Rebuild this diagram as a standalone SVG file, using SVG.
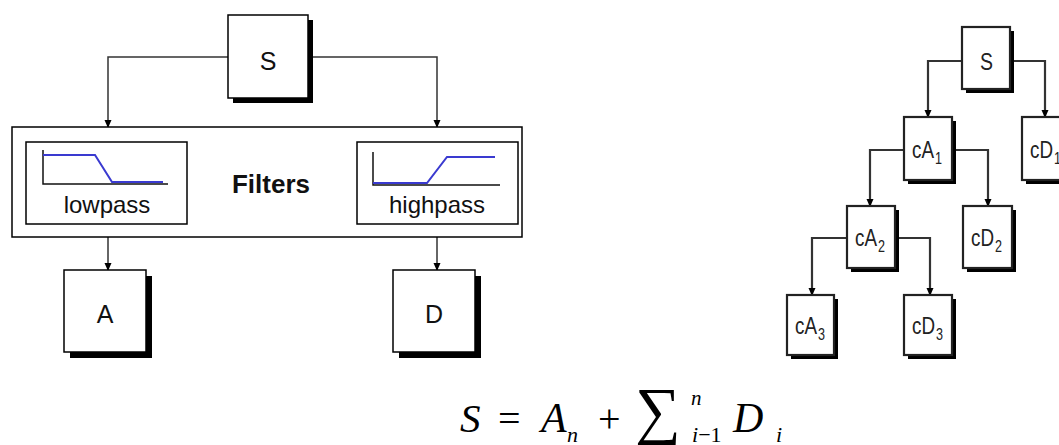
<svg xmlns="http://www.w3.org/2000/svg" width="1059" height="445" viewBox="0 0 1059 445">
<defs>
<marker id="arr" markerWidth="8" markerHeight="10" refX="7" refY="3.5" orient="auto" markerUnits="userSpaceOnUse" viewBox="0 0 8 7">
<path d="M0,0 L8,3.5 L0,7 Z" fill="#000"/>
</marker>
</defs>
<style>
.box{fill:#fff;stroke:#000;stroke-width:1.5}
.box2{fill:#fff;stroke:#222;stroke-width:2.2}
.sh{fill:#000}
.ln{fill:none;stroke:#333;stroke-width:1.5}
.ln2{fill:none;stroke:#333;stroke-width:2.2}
.t{font-family:"Liberation Sans",Arial,sans-serif;fill:#111;text-anchor:middle}
.tn{font-family:"Liberation Sans",Arial,sans-serif;fill:#222;font-size:24px}
.sub{font-family:"Liberation Sans",Arial,sans-serif;fill:#222;font-size:17px}
.m{font-family:"Liberation Serif","Times New Roman",serif;fill:#000}
.blue{fill:none;stroke:#3a3ad0;stroke-width:2}
.ax{fill:none;stroke:#111;stroke-width:1.5}
</style>
<g id="connectors">
<path class="ln" d="M228,57 H108 V127" marker-end="url(#arr)"/>
<path class="ln" d="M308,57 H437 V127" marker-end="url(#arr)"/>
<path class="ln" d="M108,237 V270" marker-end="url(#arr)"/>
<path class="ln" d="M437,237 V270" marker-end="url(#arr)"/>
<path class="ln2" d="M962,61 H928 V117" marker-end="url(#arr)"/>
<path class="ln2" d="M1010,61 H1045 V117" marker-end="url(#arr)"/>
<path class="ln2" d="M904,150 H870 V206" marker-end="url(#arr)"/>
<path class="ln2" d="M952,150 H988 V206" marker-end="url(#arr)"/>
<path class="ln2" d="M847,238 H812 V295" marker-end="url(#arr)"/>
<path class="ln2" d="M895,238 H930 V295" marker-end="url(#arr)"/>
</g>
<g id="S">
<rect class="sh" x="233" y="20" width="80" height="83"/>
<rect class="box" x="228" y="15" width="80" height="83"/>
<text class="t" x="268" y="70" font-size="25">S</text>
</g>
<g id="filters">
<rect class="box" x="12" y="127" width="510" height="110"/>
<text class="t" x="271" y="193" font-size="26" font-weight="bold">Filters</text>
</g>
<g id="lowpass">
<rect class="box" x="26" y="142" width="161" height="82"/>
<path class="ax" d="M43,150 V184 H168"/>
<path class="blue" d="M43,155 H95 L112,182 H163"/>
<text class="t" x="107" y="213" font-size="24">lowpass</text>
</g>
<g id="highpass">
<rect class="box" x="357" y="142" width="161" height="82"/>
<path class="ax" d="M373,152 V185 H500"/>
<path class="blue" d="M373,183 H427 L447,157 H495"/>
<text class="t" x="437" y="213" font-size="24">highpass</text>
</g>
<g id="A">
<rect class="sh" x="70" y="276" width="82" height="82"/>
<rect class="box" x="64" y="270" width="82" height="82"/>
<text class="t" x="105" y="323" font-size="25">A</text>
</g>
<g id="D">
<rect class="sh" x="399" y="276" width="82" height="82"/>
<rect class="box" x="393" y="270" width="82" height="82"/>
<text class="t" x="434" y="323" font-size="25">D</text>
</g>
<g id="tS">
<rect class="sh" x="966" y="31" width="48" height="62"/>
<rect class="box2" x="962" y="27" width="48" height="62"/>
<text class="tn" x="980" y="70" textLength="13" lengthAdjust="spacingAndGlyphs">S</text>
</g>
<g id="cA1">
<rect class="sh" x="908" y="121" width="48" height="63"/>
<rect class="box2" x="904" y="117" width="48" height="63"/>
<text class="tn" x="912" y="158" textLength="22" lengthAdjust="spacingAndGlyphs">cA</text>
<text class="sub" x="935" y="164" textLength="7" lengthAdjust="spacingAndGlyphs">1</text>
</g>
<g id="cD1">
<rect class="sh" x="1026" y="121" width="48" height="63"/>
<rect class="box2" x="1022" y="117" width="48" height="63"/>
<text class="tn" x="1030" y="158" textLength="23" lengthAdjust="spacingAndGlyphs">cD</text>
<text class="sub" x="1054" y="164" textLength="7" lengthAdjust="spacingAndGlyphs">1</text>
</g>
<g id="cA2">
<rect class="sh" x="851" y="210" width="48" height="62"/>
<rect class="box2" x="847" y="206" width="48" height="62"/>
<text class="tn" x="855" y="246" textLength="22" lengthAdjust="spacingAndGlyphs">cA</text>
<text class="sub" x="878" y="252" textLength="7" lengthAdjust="spacingAndGlyphs">2</text>
</g>
<g id="cD2">
<rect class="sh" x="967" y="210" width="49" height="62"/>
<rect class="box2" x="963" y="206" width="49" height="62"/>
<text class="tn" x="971" y="246" textLength="23" lengthAdjust="spacingAndGlyphs">cD</text>
<text class="sub" x="995" y="252" textLength="7" lengthAdjust="spacingAndGlyphs">2</text>
</g>
<g id="cA3">
<rect class="sh" x="791" y="299" width="47" height="60"/>
<rect class="box2" x="787" y="295" width="47" height="60"/>
<text class="tn" x="795" y="334" textLength="22" lengthAdjust="spacingAndGlyphs">cA</text>
<text class="sub" x="818" y="340" textLength="7" lengthAdjust="spacingAndGlyphs">3</text>
</g>
<g id="cD3">
<rect class="sh" x="908" y="299" width="48" height="60"/>
<rect class="box2" x="904" y="295" width="48" height="60"/>
<text class="tn" x="912" y="334" textLength="23" lengthAdjust="spacingAndGlyphs">cD</text>
<text class="sub" x="936" y="340" textLength="7" lengthAdjust="spacingAndGlyphs">3</text>
</g>
<g id="formula">
<text class="m" x="460" y="432" font-size="41" font-style="italic">S</text>
<text class="m" x="498" y="432" font-size="40">=</text>
<text class="m" x="541" y="432" font-size="42" font-style="italic">A</text>
<text class="m" x="567" y="442" font-size="22" font-style="italic">n</text>
<text class="m" x="598" y="432" font-size="40">+</text>
<text class="m" x="635" y="432" font-size="64">∑</text>
<text class="m" x="691" y="405" font-size="21" font-style="italic">n</text>
<text class="m" x="692" y="442" font-size="22" font-style="italic">i<tspan font-style="normal">−1</tspan></text>
<text class="m" x="733" y="432" font-size="42" font-style="italic">D</text>
<text class="m" x="776" y="442" font-size="22" font-style="italic">i</text>
</g>
</svg>
